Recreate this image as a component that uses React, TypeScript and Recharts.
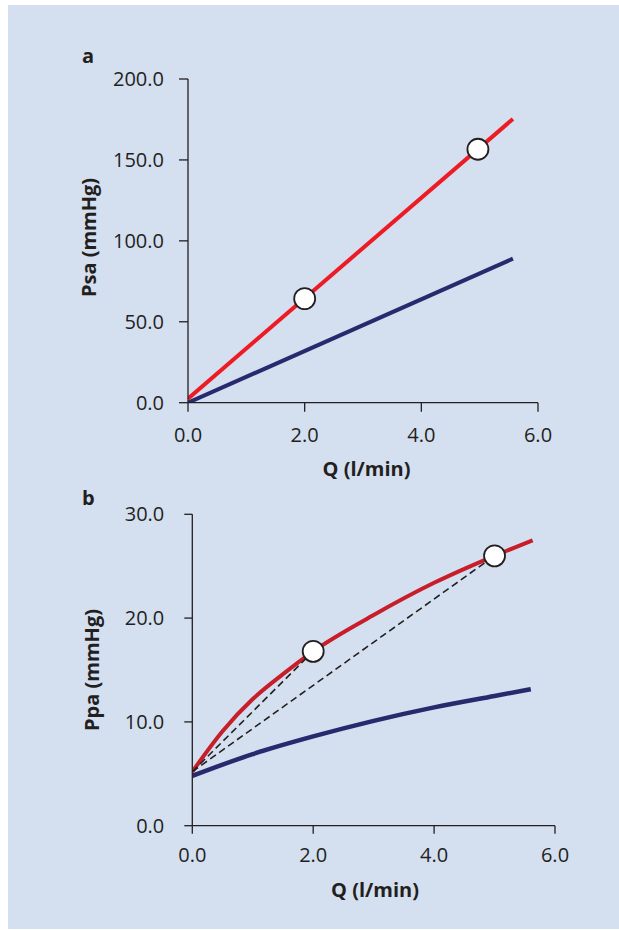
import React from 'react';
import { ComposedChart, Line, XAxis, YAxis, Label } from 'recharts';

const FONT = '"Open Sans", "Noto Sans", sans-serif';
const BG = '#d4dff0';
const INK = '#231f20';
const RED_A = '#ed1c24';
const RED_B = '#c81e2a';
const NAVY = '#29296e';

const flowTicks = [0, 2, 4, 6];
const psaTicks = [0, 50, 100, 150, 200];
const ppaTicks = [0, 10, 20, 30];

// panel a: systemic circulation, Psa vs Q
const psaFlow = [0, 5.57];
const psaHigh = [2.5, 175.3];
const psaLow = [0, 89];
const psaMarkFlow = [2, 4.97];
const psaMarkP = [64.3, 156.6];

// panel b: pulmonary circulation, Ppa vs Q
const ppaHighFlow = [0, 0.5, 1, 1.5, 2, 3, 4, 5, 5.63];
const ppaHigh = [5.2, 9.1, 12.2, 14.6, 16.8, 20.3, 23.4, 26.0, 27.5];
const ppaLowFlow = [0, 1, 2, 3, 4, 5, 5.6];
const ppaLow = [4.8, 6.9, 8.6, 10.1, 11.4, 12.5, 13.15];
const ppaMarkFlow = [2, 5];
const ppaMarkP = [16.8, 26.0];
const chordStartP = 5.2;

const zip = (qs: number[], ps: number[]) => qs.map((q, i) => ({ q, p: ps[i] }));

const marker = (props: any) => (
  <circle key={`m-${props.index}`} cx={props.cx} cy={props.cy} r={10.5} fill="#ffffff" stroke={INK} strokeWidth={1.8} />
);

function title(text: string, x: number, y: number, vertical = false) {
  return () => (
    <text
      x={x}
      y={y}
      textAnchor="middle"
      transform={vertical ? `rotate(-90 ${x} ${y})` : undefined}
      fill={INK}
      fontFamily={FONT}
      fontSize={20}
      fontWeight={700}
    >
      {text}
    </text>
  );
}

const tickStyle = { fill: INK, fontSize: 20, fontFamily: FONT };
const lineStyle = { stroke: INK, strokeWidth: 1.3 };
const fmt = (v: number) => v.toFixed(1);

const letterStyle: React.CSSProperties = {
  position: 'absolute',
  left: 74,
  fontSize: 20,
  lineHeight: '20px',
  fontWeight: 700,
  color: INK,
  fontFamily: FONT,
};

export default function App() {
  return (
    <div style={{ position: 'absolute', left: 8, top: 5, width: 611, height: 924, background: BG }}>
      <div style={{ ...letterStyle, top: 41.2 }}>a</div>
      <div style={{ ...letterStyle, top: 483.2 }}>b</div>

      <div style={{ position: 'absolute', left: 0, top: 0 }}>
        <ComposedChart width={611} height={480} margin={{ top: 74, right: 81, bottom: 12.3, left: 40 }}>
          <XAxis
            dataKey="q"
            type="number"
            domain={[0, 6]}
            ticks={flowTicks}
            tickFormatter={fmt}
            height={70}
            axisLine={lineStyle}
            tickLine={lineStyle}
            tickSize={9}
            tickMargin={16}
            tick={tickStyle}
            allowDataOverflow
          >
            <Label content={title('Q (l/min)', 358.5, 471)} />
          </XAxis>
          <YAxis
            type="number"
            domain={[0, 200]}
            ticks={psaTicks}
            tickFormatter={fmt}
            width={140}
            axisLine={lineStyle}
            tickLine={lineStyle}
            tickSize={9}
            tickMargin={15}
            tick={tickStyle}
            allowDataOverflow
          >
            <Label content={title('Psa (mmHg)', 88, 232.5, true)} />
          </YAxis>
          <Line data={zip(psaFlow, psaLow)} dataKey="p" type="linear" stroke={NAVY} strokeWidth={4} dot={false} activeDot={false} isAnimationActive={false} />
          <Line data={zip(psaFlow, psaHigh)} dataKey="p" type="linear" stroke={RED_A} strokeWidth={4} dot={false} activeDot={false} isAnimationActive={false} />
          <Line data={zip(psaMarkFlow, psaMarkP)} dataKey="p" stroke="none" dot={marker} activeDot={false} isAnimationActive={false} />
        </ComposedChart>
      </div>

      <div style={{ position: 'absolute', left: 0, top: 440 }}>
        <ComposedChart width={611} height={484} margin={{ top: 69.3, right: 64, bottom: 33.3, left: 44.3 }}>
          <XAxis
            dataKey="q"
            type="number"
            domain={[0, 6]}
            ticks={flowTicks}
            tickFormatter={fmt}
            height={70}
            axisLine={lineStyle}
            tickLine={lineStyle}
            tickSize={8}
            tickMargin={14}
            tick={tickStyle}
            allowDataOverflow
          >
            <Label content={title('Q (l/min)', 367, 452)} />
          </XAxis>
          <YAxis
            type="number"
            domain={[0, 30]}
            ticks={ppaTicks}
            tickFormatter={fmt}
            width={140}
            axisLine={lineStyle}
            tickLine={lineStyle}
            tickSize={8}
            tickMargin={20}
            tick={tickStyle}
            allowDataOverflow
          >
            <Label content={title('Ppa (mmHg)', 91, 225, true)} />
          </YAxis>
          <Line data={zip(ppaLowFlow, ppaLow)} dataKey="p" type="monotone" stroke={NAVY} strokeWidth={4.5} dot={false} activeDot={false} isAnimationActive={false} />
          <Line data={zip(ppaHighFlow, ppaHigh)} dataKey="p" type="monotone" stroke={RED_B} strokeWidth={4} dot={false} activeDot={false} isAnimationActive={false} />
          <Line data={zip(ppaMarkFlow, ppaMarkP)} dataKey="p" stroke="none" dot={marker} activeDot={false} isAnimationActive={false} />
          <Line data={[{ q: 0, p: chordStartP }, { q: ppaMarkFlow[0], p: ppaMarkP[0] }]} dataKey="p" type="linear" stroke={INK} strokeWidth={1.6} strokeDasharray="7 4" dot={false} activeDot={false} isAnimationActive={false} />
          <Line data={[{ q: 0, p: chordStartP }, { q: ppaMarkFlow[1], p: ppaMarkP[1] }]} dataKey="p" type="linear" stroke={INK} strokeWidth={1.6} strokeDasharray="7 4" dot={false} activeDot={false} isAnimationActive={false} />
        </ComposedChart>
      </div>
    </div>
  );
}
